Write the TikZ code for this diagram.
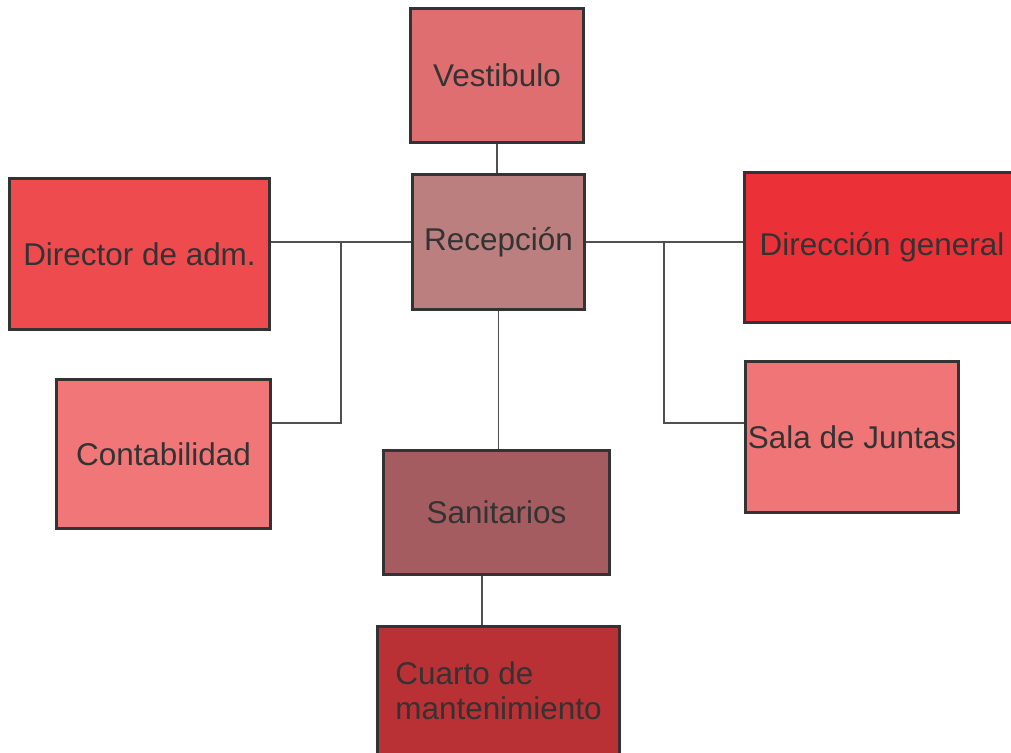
\documentclass[tikz,border=0pt]{standalone}
\usepackage{fontspec}
\setmainfont{Liberation Sans}
\usepackage{xcolor}
\usepackage{tikz}
\usetikzlibrary{positioning}

\definecolor{edgegray}{HTML}{333333}
\definecolor{linegray}{HTML}{505050}
\definecolor{vestred}{HTML}{DE6E70}
\definecolor{recrose}{HTML}{BC7F80}
\definecolor{admred}{HTML}{EE4B4E}
\definecolor{contared}{HTML}{F07677}
\definecolor{genred}{HTML}{EC3038}
\definecolor{salared}{HTML}{F07577}
\definecolor{sanitred}{HTML}{A55C60}
\definecolor{cuartored}{HTML}{B93035}

\begin{document}
\begin{tikzpicture}[x=0.02cm, y=-0.02cm,
    room/.style={draw=edgegray, line width=1.7pt, inner sep=0pt,
      text=edgegray, font=\fontsize{17.9}{20}\selectfont},
    link/.style={draw=linegray, line width=1pt}]
  % page frame
  \useasboundingbox (0,0) rectangle (1011,752);
  \clip (0,0) rectangle (1011,752);
  \fill[white] (0,0) rectangle (1011,752);

  % rooms
  \node[room, fill=vestred, minimum width=3.46cm, minimum height=2.68cm] (vest) at (497,75.5) {Vestibulo};
  \node[room, fill=recrose, minimum width=3.44cm, minimum height=2.70cm] (recep) at (498.5,242) {Recepción};
  \node[room, fill=admred, minimum width=5.20cm, minimum height=3.02cm] (diradm) at (139.5,254) {Director de adm.};
  \node[room, fill=contared, minimum width=4.28cm, minimum height=2.98cm] (conta) at (163.5,454) {Contabilidad};
  \node[room, fill=genred, minimum width=5.50cm, minimum height=3.00cm] (dirgen) at (882,247.5) {Dirección general};
  \node[room, fill=salared, minimum width=4.26cm, minimum height=3.02cm] (sala) at (852,437) {Sala de Juntas};
  \node[room, fill=sanitred, minimum width=4.52cm, minimum height=2.48cm] (sanit) at (496.5,512.5) {Sanitarios};
  \node[room, fill=cuartored, minimum width=4.84cm, minimum height=2.56cm, align=left] (cuarto) at (498.5,690.5) {Cuarto de\\mantenimiento};

  % branch points
  \coordinate (ljoint) at (341,242);
  \coordinate (lend) at (341,423);
  \coordinate (rjoint) at (664,242);
  \coordinate (rend) at (664,423);
  \coordinate (sjoint) at (482,600);

  % connectors
  \draw[link] (vest.south) -- (vest.south |- recep.north);
  \draw[link] (recep.west) -- (recep.west -| diradm.east);
  \draw[link] (ljoint) -- (lend) -- (lend -| conta.east);
  \draw[link] (recep.east) -- (recep.east -| dirgen.west);
  \draw[link] (rjoint) -- (rend) -- (rend -| sala.west);
  \draw[link] (recep.south) -- (recep.south |- sanit.north);
  \draw[link] (sanit.south -| sjoint) -- (cuarto.north -| sjoint);

\end{tikzpicture}
\end{document}
